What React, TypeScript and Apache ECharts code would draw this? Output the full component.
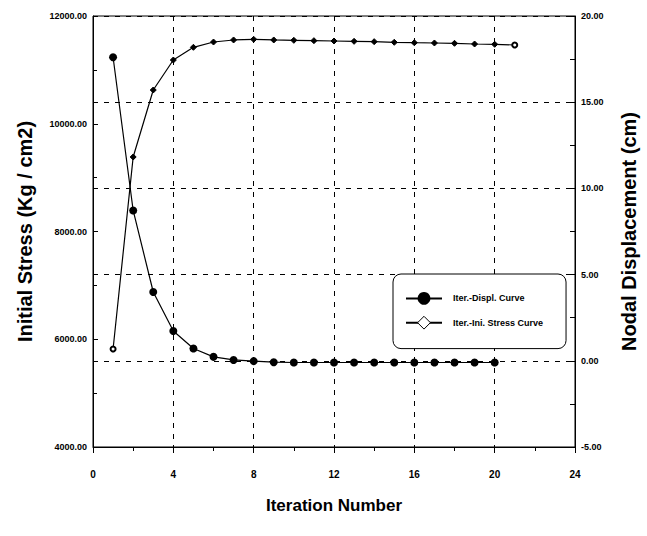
import React, { useEffect, useRef } from "react";
import * as echarts from "echarts";

const iterStress = [1, 2, 3, 4, 5, 6, 7, 8, 9, 10, 11, 12, 13, 14, 15, 16, 17, 18, 19, 20, 21];
const stressValues = [5819, 9383, 10626, 11183, 11419, 11517, 11555, 11567, 11555, 11549, 11542, 11536, 11530, 11524, 11512, 11504, 11499, 11493, 11480, 11475, 11462];
const iterDispl = [1, 2, 3, 4, 5, 6, 7, 8, 9, 10, 11, 12, 13, 14, 15, 16, 17, 18, 19, 20];
const displValues = [17.61, 8.72, 3.99, 1.73, 0.71, 0.23, 0.05, -0.02, -0.08, -0.1, -0.1, -0.1, -0.1, -0.1, -0.1, -0.1, -0.1, -0.1, -0.1, -0.1];

const FONT = "'Liberation Sans', Arial, sans-serif";

export default function App() {
  const ref = useRef<HTMLDivElement>(null);
  useEffect(() => {
    if (!ref.current) return;
    const chart = echarts.init(ref.current, null, { renderer: "svg" });
    const stressData = stressValues.map((v, i) => {
      const open = i === 0 || i === stressValues.length - 1;
      return open
        ? { value: [iterStress[i], v], symbol: "emptyCircle", symbolSize: 5 }
        : { value: [iterStress[i], v] };
    });
    const displData = displValues.map((v, i) => [iterDispl[i], v]);
    chart.setOption({
      animation: false,
      backgroundColor: "#ffffff",
      grid: {
        left: 93,
        right: 67,
        top: 16,
        bottom: 89,
        show: true,
        borderColor: "#000",
        borderWidth: 1,
        backgroundColor: "transparent",
      },
      legend: {
        orient: "vertical",
        left: 393,
        top: 274,
        padding: [18, 23, 19, 12],
        itemGap: 11,
        itemWidth: 36,
        itemHeight: 16,
        borderColor: "#000",
        borderWidth: 1,
        borderRadius: 8,
        backgroundColor: "#fff",
        textStyle: { fontFamily: FONT, fontWeight: "bold", fontSize: 9, color: "#000", padding: [0, 0, 0, 6] },
        data: [
          { name: "Iter.-Displ. Curve", itemStyle: { color: "#000" } },
          { name: "Iter.-Ini. Stress Curve", itemStyle: { color: "#fff", borderColor: "#000", borderWidth: 1 } },
        ],
      },
      xAxis: {
        type: "value",
        min: 0,
        max: 24,
        interval: 4,
        name: "Iteration Number",
        nameLocation: "middle",
        nameGap: 50,
        nameTextStyle: { fontFamily: FONT, fontWeight: "bold", fontSize: 17, color: "#000" },
        axisLine: { show: true, onZero: false, lineStyle: { color: "#000", width: 1 } },
        axisTick: { show: true, length: 6, lineStyle: { color: "#000" } },
        minorTick: { show: true, splitNumber: 2, length: 4, lineStyle: { color: "#000" } },
        axisLabel: { margin: 22, fontFamily: FONT, fontWeight: "bold", fontSize: 10, color: "#000" },
        splitLine: { show: true, lineStyle: { color: "#000", type: [5, 6], width: 1 } },
      },
      yAxis: [
        {
          type: "value",
          min: 4000,
          max: 12000,
          interval: 2000,
          position: "left",
          name: "Initial Stress (Kg / cm2)",
          nameLocation: "middle",
          nameGap: 58,
          nameTextStyle: { fontFamily: FONT, fontWeight: "bold", fontSize: 20, color: "#000" },
          axisLine: { show: true, onZero: false, lineStyle: { color: "#000", width: 1 } },
          axisTick: { show: true, length: 5, inside: true, lineStyle: { color: "#000" } },
          minorTick: { show: true, splitNumber: 2, length: 4, lineStyle: { color: "#000" } },
          axisLabel: {
            margin: 6,
            fontFamily: FONT,
            fontWeight: "bold",
            fontSize: 9,
            color: "#000",
            formatter: (v: number) => v.toFixed(2),
          },
          splitLine: { show: false },
        },
        {
          type: "value",
          min: -5,
          max: 20,
          interval: 5,
          position: "right",
          name: "Nodal Displacement (cm)",
          nameLocation: "middle",
          nameGap: 44,
          nameRotate: 90,
          nameTextStyle: { fontFamily: FONT, fontWeight: "bold", fontSize: 20, color: "#000" },
          axisLine: { show: true, onZero: false, lineStyle: { color: "#000", width: 1 } },
          axisTick: { show: true, length: 6, inside: true, lineStyle: { color: "#000" } },
          minorTick: { show: true, splitNumber: 2, length: 5, lineStyle: { color: "#000" } },
          axisLabel: {
            margin: 6,
            fontFamily: FONT,
            fontWeight: "bold",
            fontSize: 9,
            color: "#000",
            formatter: (v: number) => v.toFixed(2),
          },
          splitLine: { show: true, lineStyle: { color: "#000", type: [5, 6], width: 1 } },
        },
      ],
      series: [
        {
          name: "Iter.-Displ. Curve",
          type: "line",
          yAxisIndex: 1,
          data: displData,
          symbol: "circle",
          symbolSize: 8,
          showAllSymbol: true,
          itemStyle: { color: "#000" },
          lineStyle: { color: "#000", width: 1.2 },
          z: 3,
        },
        {
          name: "Iter.-Ini. Stress Curve",
          type: "line",
          yAxisIndex: 0,
          data: stressData,
          symbol: "diamond",
          symbolSize: 6,
          showAllSymbol: true,
          itemStyle: { color: "#000", borderColor: "#000" },
          lineStyle: { color: "#000", width: 1.2 },
          z: 3,
        },
      ],
    });
    return () => chart.dispose();
  }, []);
  return <div ref={ref} style={{ width: 647, height: 536, position: "absolute", left: 0, top: 0 }} />;
}
